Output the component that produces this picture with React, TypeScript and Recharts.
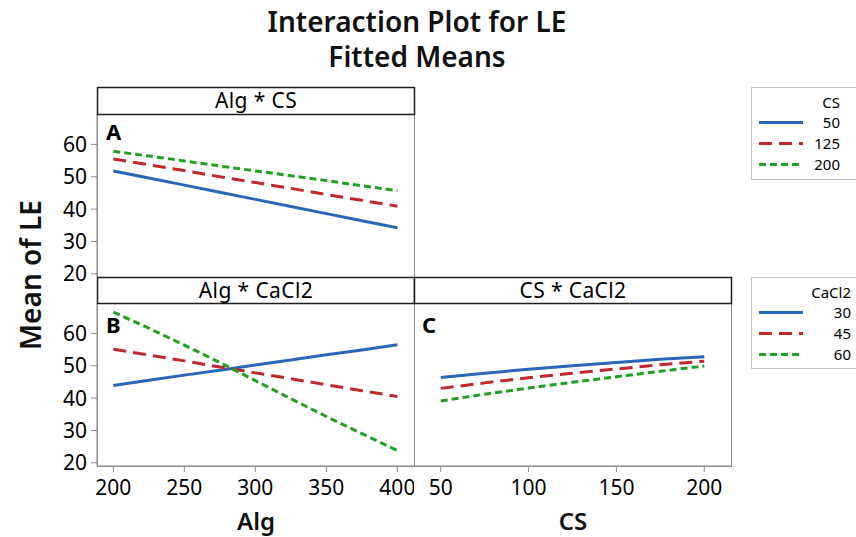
import { LineChart, Line, XAxis, YAxis } from 'recharts'

// factor levels on the x axes
const algLevels = [200, 225, 250, 275, 300, 325, 350, 375, 400]
const csLevels = [50, 75, 100, 125, 150, 175, 200]

// Alg * CS fitted means, one list per CS level
const algCs50 = [51.8, 49.6, 47.4, 45.2, 43.0, 40.8, 38.6, 36.4, 34.2]
const algCs125 = [55.5, 53.7, 51.9, 50.0, 48.2, 46.4, 44.5, 42.7, 40.9]
const algCs200 = [57.9, 56.4, 54.9, 53.3, 51.8, 50.3, 48.8, 47.2, 45.7]

// Alg * CaCl2 fitted means
const algCa30 = [43.9, 45.5, 47.1, 48.6, 50.2, 51.8, 53.4, 54.9, 56.5]
const algCa45 = [55.1, 53.3, 51.5, 49.6, 47.8, 46.0, 44.1, 42.3, 40.5]
const algCa60 = [66.6, 61.6, 56.4, 51.0, 45.4, 39.8, 34.3, 29.0, 23.8]

// CS * CaCl2 fitted means
const csCa30 = [46.4, 47.7, 48.9, 50.0, 51.0, 52.0, 52.8]
const csCa45 = [43.0, 44.7, 46.3, 47.7, 49.0, 50.3, 51.4]
const csCa60 = [39.1, 41.2, 43.1, 44.9, 46.6, 48.3, 49.9]

const csLevelLabels = ['50', '125', '200']
const caclLevelLabels = ['30', '45', '60']
const yTicks = [20, 30, 40, 50, 60]
const algTicks = [200, 250, 300, 350, 400]
const csTicks = [50, 100, 150, 200]

const FONT = '"Noto Sans", "Open Sans", sans-serif'
const FRAME = '#8c8c8c'
const HEADER = '#1e1e1e'

const PLOT_W = 317
const PLOT_H = 163
const Y_AXIS_W = 97
const X_AXIS_H = 44
const PAD = 14 // room above/below the plot so edge tick labels aren't clipped
const Y_DOMAIN: [number, number] = [19, 69.4]

const seriesStyles = [
  { color: '#2a66b8', dash: undefined as string | undefined },
  { color: '#c0282e', dash: '13 7' },
  { color: '#22a023', dash: '7 4' },
]

const toRows = (xs: number[], a: number[], b: number[], c: number[]) =>
  xs.map((x, i) => ({ x, s0: a[i], s1: b[i], s2: c[i] }))

const algCsRows = toRows(algLevels, algCs50, algCs125, algCs200)
const algCaRows = toRows(algLevels, algCa30, algCa45, algCa60)
const csCaRows = toRows(csLevels, csCa30, csCa45, csCa60)

const tickStyle = { fontSize: 21, fill: '#000', fontFamily: FONT }

interface PanelProps {
  rows: { x: number; s0: number; s1: number; s2: number }[]
  xDomain: [number, number]
  xTicks: number[]
  showX: boolean
  showY: boolean
  left: number
  top: number
}

function Panel({ rows, xDomain, xTicks, showX, showY, left, top }: PanelProps) {
  const width = (showY ? Y_AXIS_W : 0) + PLOT_W
  const height = PAD + PLOT_H + (showX ? X_AXIS_H : PAD)
  return (
    <div style={{ position: 'absolute', left, top: top - PAD }}>
      <LineChart
        width={width}
        height={height}
        data={rows}
        margin={{ top: PAD, right: 0, bottom: showX ? 0 : PAD, left: 0 }}
      >
        <XAxis
          type="number"
          dataKey="x"
          domain={xDomain}
          ticks={xTicks}
          interval={0}
          hide={!showX}
          height={X_AXIS_H}
          tick={tickStyle}
          tickSize={6}
          tickMargin={8}
          tickLine={{ stroke: FRAME }}
          axisLine={{ stroke: FRAME }}
          allowDataOverflow
        />
        <YAxis
          type="number"
          domain={Y_DOMAIN}
          ticks={yTicks}
          interval={0}
          hide={!showY}
          width={Y_AXIS_W}
          tick={tickStyle}
          tickSize={6}
          tickMargin={4}
          tickLine={{ stroke: FRAME }}
          axisLine={{ stroke: FRAME }}
          allowDataOverflow
        />
        {seriesStyles.map((s, i) => (
          <Line
            key={i}
            type="linear"
            dataKey={`s${i}`}
            stroke={s.color}
            strokeWidth={3}
            strokeDasharray={s.dash}
            dot={false}
            activeDot={false}
            isAnimationActive={false}
          />
        ))}
      </LineChart>
    </div>
  )
}

function LegendBox({ top, height, title, labels, right }: { top: number; height: number; title: string; labels: string[]; right: number }) {
  return (
    <g fontFamily={FONT} fontSize={15} fill="#000">
      <rect x={751.5} y={top + 0.5} width={130} height={height} fill="#fff" stroke="#c4c4c4" />
      <text x={right} y={top + 21} textAnchor="end">{title}</text>
      {labels.map((lab, i) => {
        const cy = top + 35.5 + i * 21
        return (
          <g key={lab}>
            <line x1={759} x2={803} y1={cy} y2={cy} stroke={seriesStyles[i].color} strokeWidth={3} strokeDasharray={seriesStyles[i].dash} />
            <text x={right} y={cy + 5.5} textAnchor="end">{lab}</text>
          </g>
        )
      })}
    </g>
  )
}

export default function App() {
  return (
    <div style={{ position: 'absolute', left: 0, top: 0, width: 856, height: 537, background: '#fff', overflow: 'hidden' }}>
      {/* plot frames sit underneath the series */}
      <svg width={856} height={537} style={{ position: 'absolute', left: 0, top: 0 }}>
        <rect x={97.5} y={114.5} width={PLOT_W} height={PLOT_H} fill="none" stroke={FRAME} />
        <rect x={97.5} y={303.5} width={PLOT_W} height={PLOT_H} fill="none" stroke={FRAME} />
        <rect x={414.5} y={303.5} width={PLOT_W} height={PLOT_H} fill="none" stroke={FRAME} />
      </svg>

      <Panel rows={algCsRows} xDomain={[188.5, 411.7]} xTicks={algTicks} showX={false} showY left={0} top={114} />
      <Panel rows={algCaRows} xDomain={[188.5, 411.7]} xTicks={algTicks} showX showY left={0} top={303} />
      <Panel rows={csCaRows} xDomain={[34.8, 215.2]} xTicks={csTicks} showX showY={false} left={414} top={303} />

      <svg width={856} height={537} style={{ position: 'absolute', left: 0, top: 0, pointerEvents: 'none' }}>
        {/* strip headers */}
        <rect x={97.5} y={87.5} width={PLOT_W} height={27} fill="#fff" stroke={HEADER} strokeWidth={1.5} />
        <rect x={97.5} y={277.5} width={PLOT_W} height={26} fill="#fff" stroke={HEADER} strokeWidth={1.5} />
        <rect x={414.5} y={277.5} width={PLOT_W} height={26} fill="#fff" stroke={HEADER} strokeWidth={1.5} />
        <g fontFamily={FONT} fontSize={21} letterSpacing={0.4} fill="#000" textAnchor="middle">
          <text x={256} y={108}>Alg * CS</text>
          <text x={256} y={297.5}>Alg * CaCl2</text>
          <text x={573} y={297.5}>CS * CaCl2</text>
        </g>

        {/* panel letters */}
        <g fontFamily={FONT} fontSize={22} fontWeight={700} fill="#000">
          <text x={106} y={139.5}>A</text>
          <text x={106} y={333}>B</text>
          <text x={422} y={333}>C</text>
        </g>

        {/* titles */}
        <g fontFamily={FONT} fontWeight={600} fill="#111" textAnchor="middle">
          <text x={417} y={32} fontSize={28}>Interaction Plot for LE</text>
          <text x={417} y={67} fontSize={28}>Fitted Means</text>
          <text x={256} y={530} fontSize={24}>Alg</text>
          <text x={573} y={530} fontSize={24}>CS</text>
          <text x={0} y={0} fontSize={28} transform="translate(41 275) rotate(-90)">Mean of LE</text>
        </g>

        <LegendBox top={87} height={92} title="CS" labels={csLevelLabels} right={840} />
        <LegendBox top={277} height={91} title="CaCl2" labels={caclLevelLabels} right={851} />
      </svg>
    </div>
  )
}
